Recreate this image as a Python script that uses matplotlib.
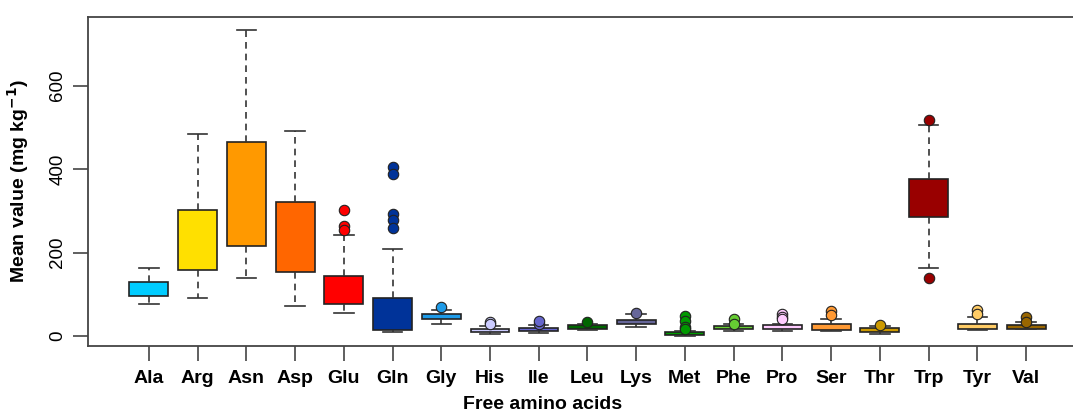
import matplotlib.pyplot as plt

# amino acid names and colours
amino = ['Ala', 'Arg', 'Asn', 'Asp', 'Glu', 'Gln', 'Gly', 'His', 'Ile', 'Leu',
         'Lys', 'Met', 'Phe', 'Pro', 'Ser', 'Thr', 'Trp', 'Tyr', 'Val']
colors = ['#00CCFF', '#FFE000', '#FF9900', '#FF6600', '#FF0000', '#003399', '#1E9BE8',
          '#CCCCFF', '#6666CC', '#006600', '#666699', '#009900', '#66CC33', '#FFCCFF',
          '#FF9933', '#CC9900', '#990000', '#FFCC66', '#996600']

# box statistics (mg/kg)
whislo = [76, 92, 139, 71, 55, 9, 29, 5, 8, 14, 22, 1, 12, 12, 12, 6, 163, 14, 16]
q1 = [97, 159, 216, 154, 78, 14, 41, 9, 12, 17, 29, 2, 17, 16, 14, 10, 285, 18, 18]
med = [112, 230, 330, 230, 110, 40, 47, 13, 16, 21, 33, 5, 21, 21, 20, 15, 330, 24, 22]
q3 = [129, 303, 465, 320, 144, 92, 53, 18, 20, 26, 38, 10, 25, 26, 28, 20, 376, 30, 26]
whishi = [164, 483, 733, 490, 242, 208, 62, 25, 27, 29, 52, 12, 30, 28, 40, 23, 505, 46, 33]
fliers = [[], [], [], [], [303, 263, 254], [406, 388, 292, 278, 260], [70],
          [34, 30], [30, 36], [33], [56], [48, 36, 22, 17], [42, 30],
          [54, 46, 40], [60, 50], [26], [517, 139], [62, 52], [45, 34]]

plt.rcParams['font.family'] = ['Liberation Sans', 'DejaVu Sans']

fig = plt.figure(figsize=(10.73, 4.15), dpi=100)
ax = fig.add_axes([0.082, 0.166, 0.931, 0.793])

stats = []
for i in range(len(amino)):
    stats.append(dict(label=amino[i], whislo=whislo[i], q1=q1[i], med=med[i],
                      q3=q3[i], whishi=whishi[i], fliers=fliers[i]))

positions = list(range(1, len(amino) + 1))
bp = ax.bxp(stats, positions=positions, widths=0.8, patch_artist=True,
            showfliers=True,
            boxprops=dict(edgecolor='#222222', linewidth=1.2),
            whiskerprops=dict(color='#333333', linewidth=1.2, linestyle=(0, (4, 3))),
            capprops=dict(color='#333333', linewidth=1.2),
            medianprops=dict(linewidth=0),
            flierprops=dict(marker='o', markersize=7.5, markeredgecolor='#222222',
                            markeredgewidth=0.8),
            capwidths=0.4)

for patch, c in zip(bp['boxes'], colors):
    patch.set_facecolor(c)
for fl, c in zip(bp['fliers'], colors):
    fl.set_markerfacecolor(c)

ax.set_xlim(-0.25, 20.25)
ax.set_ylim(-24, 764)
ax.set_yticks([0, 200, 400, 600])
ax.set_yticklabels(['0', '200', '400', '600'], rotation=90, va='center')
ax.set_xticks(positions)
ax.set_xticklabels(amino, fontsize=14, fontweight='bold')
ax.tick_params(axis='y', labelsize=13.5, length=10.5, width=1.2, color='#444444', pad=5)
ax.tick_params(axis='x', length=10.5, width=1.2, color='#444444', pad=7)
for s in ax.spines.values():
    s.set_linewidth(1.3)
    s.set_color('#444444')

ax.set_ylabel('Mean value (mg kg$^{\\mathbf{-1}}$)', fontsize=14, fontweight='bold')
ax.yaxis.set_label_coords(-0.057, 0.5)
ax.set_xlabel('Free amino acids', fontsize=14, fontweight='bold')
ax.xaxis.set_label_coords(0.455, -0.152)

fig.savefig('out.png', dpi=100)
